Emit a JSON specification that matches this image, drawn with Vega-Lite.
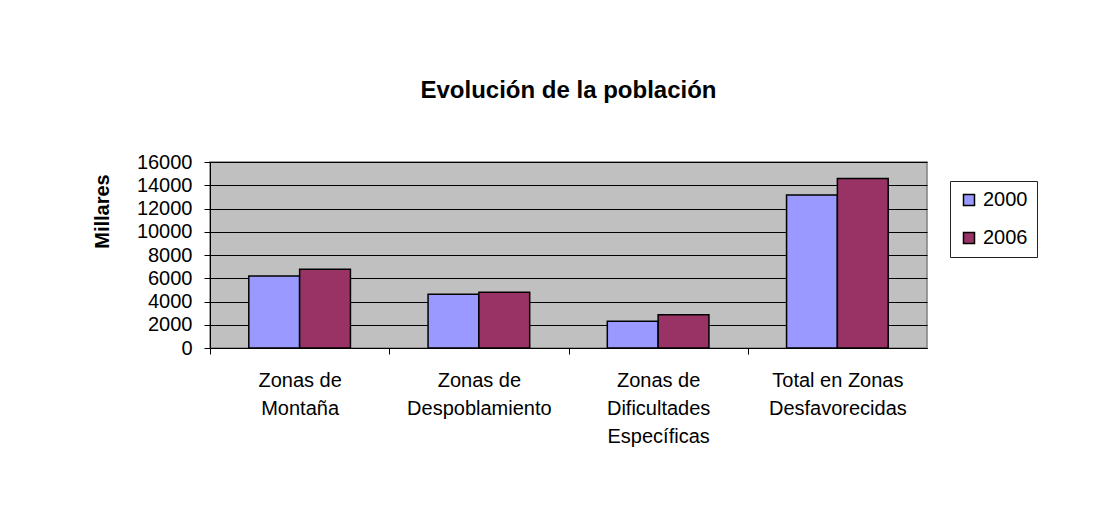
{
  "$schema": "https://vega.github.io/schema/vega-lite/v6.json",
  "width": 717,
  "height": 186,
  "autosize": {"type": "none"},
  "padding": {"left": 210, "top": 162, "right": 180, "bottom": 165},
  "background": "white",
  "title": {
    "text": "Evolución de la población",
    "font": "Liberation Sans",
    "fontSize": 24,
    "fontWeight": "bold",
    "color": "black",
    "anchor": "middle",
    "baseline": "alphabetic",
    "offset": 30
  },
  "data": {
    "values": [
      {"zona": "Zonas de\nMontaña", "anio": "2000", "millares": 6200},
      {"zona": "Zonas de\nMontaña", "anio": "2006", "millares": 6770},
      {"zona": "Zonas de\nDespoblamiento", "anio": "2000", "millares": 4620},
      {"zona": "Zonas de\nDespoblamiento", "anio": "2006", "millares": 4790},
      {"zona": "Zonas de\nDificultades\nEspecíficas", "anio": "2000", "millares": 2300},
      {"zona": "Zonas de\nDificultades\nEspecíficas", "anio": "2006", "millares": 2870},
      {"zona": "Total en Zonas\nDesfavorecidas", "anio": "2000", "millares": 13160},
      {"zona": "Total en Zonas\nDesfavorecidas", "anio": "2006", "millares": 14570}
    ]
  },
  "mark": {"type": "bar", "stroke": "black", "strokeWidth": 1.5},
  "encoding": {
    "x": {
      "field": "zona",
      "type": "nominal",
      "sort": null,
      "scale": {"paddingInner": 0.433, "paddingOuter": 0.2165},
      "axis": {
        "title": null,
        "labelAngle": 0,
        "labelExpr": "split(datum.value, '\\n')",
        "labelFont": "Liberation Sans",
        "labelFontSize": 20,
        "labelColor": "black",
        "labelLineHeight": 28,
        "labelPadding": 16,
        "labelBaseline": "top",
        "tickOffset": -89.625,
        "labelOffset": 89.625,
        "tickSize": 6,
        "tickColor": "black",
        "domainColor": "black",
        "grid": false
      }
    },
    "xOffset": {"field": "anio", "type": "nominal", "scale": {"paddingInner": 0}},
    "y": {
      "field": "millares",
      "type": "quantitative",
      "scale": {"domain": [0, 16000], "nice": false},
      "axis": {
        "title": "Millares",
        "titleFont": "Liberation Sans",
        "titleFontSize": 20,
        "titleFontWeight": "bold",
        "titleColor": "black",
        "titleAngle": -90,
        "titleAlign": "center",
        "titleBaseline": "middle",
        "titleX": -108,
        "titleY": 49,
        "values": [0, 2000, 4000, 6000, 8000, 10000, 12000, 14000, 16000],
        "format": "d",
        "labelFont": "Liberation Sans",
        "labelFontSize": 20,
        "labelColor": "black",
        "labelPadding": 12,
        "tickSize": 6,
        "tickColor": "black",
        "domainColor": "black",
        "grid": true,
        "gridColor": "black",
        "gridWidth": 1
      }
    },
    "color": {
      "field": "anio",
      "type": "nominal",
      "scale": {"domain": ["2000", "2006"], "range": ["#9999FF", "#993366"]},
      "legend": {
        "title": null,
        "orient": "none",
        "legendX": 740,
        "legendY": 19,
        "symbolType": "square",
        "symbolSize": 121,
        "symbolStrokeColor": "black",
        "symbolStrokeWidth": 1.5,
        "labelFont": "Liberation Sans",
        "labelFontSize": 20,
        "labelColor": "black",
        "labelOffset": 4,
        "rowPadding": 18,
        "padding": 9,
        "strokeColor": "#222222",
        "fillColor": "white"
      }
    }
  },
  "config": {
    "view": {"fill": "#C0C0C0", "stroke": "#808080", "strokeWidth": 1.5}
  }
}
